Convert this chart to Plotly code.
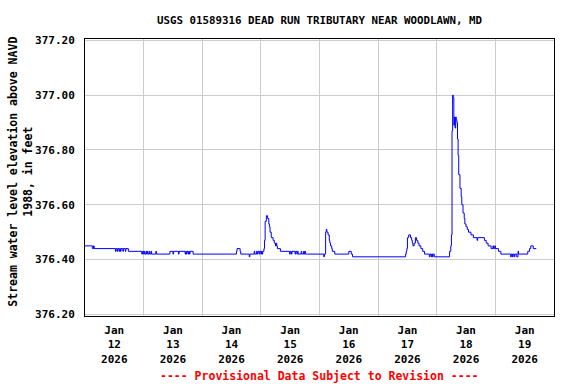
import plotly.graph_objects as go

title = "USGS 01589316 DEAD RUN TRIBUTARY NEAR WOODLAWN, MD"
y_title = "Stream water level elevation above NAVD<br>1988, in feet"
footer = "---- Provisional Data Subject to Revision ----"

# change points of the 15-minute stage record (step series)
times = [
    "2026-01-12 00:00", "2026-01-12 03:00", "2026-01-12 03:30", "2026-01-12 03:45",
    "2026-01-12 12:30", "2026-01-12 12:45", "2026-01-12 13:15", "2026-01-12 13:30",
    "2026-01-12 14:00", "2026-01-12 14:15", "2026-01-12 14:30", "2026-01-12 14:45",
    "2026-01-12 15:30", "2026-01-12 15:45", "2026-01-12 16:30", "2026-01-12 16:45",
    "2026-01-12 17:45",
    "2026-01-12 23:15", "2026-01-12 23:30", "2026-01-13 00:00", "2026-01-13 00:15",
    "2026-01-13 00:30", "2026-01-13 01:00", "2026-01-13 01:15", "2026-01-13 01:30",
    "2026-01-13 01:45", "2026-01-13 02:15", "2026-01-13 02:30", "2026-01-13 03:00",
    "2026-01-13 03:15", "2026-01-13 05:00", "2026-01-13 05:15",
    "2026-01-13 10:45", "2026-01-13 12:00", "2026-01-13 12:15", "2026-01-13 14:15",
    "2026-01-13 14:30", "2026-01-13 17:00", "2026-01-13 17:15", "2026-01-13 17:30",
    "2026-01-13 17:45", "2026-01-13 18:15", "2026-01-13 18:30", "2026-01-13 18:45",
    "2026-01-13 19:00", "2026-01-13 20:15",
    "2026-01-14 14:00", "2026-01-14 14:15", "2026-01-14 15:30", "2026-01-14 15:45",
    "2026-01-14 19:15", "2026-01-14 19:30",
    "2026-01-14 21:15", "2026-01-14 21:30", "2026-01-14 22:15", "2026-01-14 22:30",
    "2026-01-14 22:45", "2026-01-14 23:15", "2026-01-14 23:30", "2026-01-15 00:00",
    "2026-01-15 00:15", "2026-01-15 00:30", "2026-01-15 00:45",
    "2026-01-15 01:15", "2026-01-15 01:30", "2026-01-15 01:45", "2026-01-15 02:15",
    "2026-01-15 02:45", "2026-01-15 03:15", "2026-01-15 03:30", "2026-01-15 03:45",
    "2026-01-15 04:15", "2026-01-15 05:00", "2026-01-15 05:30", "2026-01-15 06:00",
    "2026-01-15 06:15", "2026-01-15 06:30", "2026-01-15 06:45", "2026-01-15 08:00",
    "2026-01-15 11:45", "2026-01-15 12:00", "2026-01-15 12:30", "2026-01-15 12:45",
    "2026-01-15 14:00", "2026-01-15 14:15", "2026-01-15 14:45", "2026-01-15 15:00",
    "2026-01-15 15:15", "2026-01-15 16:30", "2026-01-15 16:45", "2026-01-15 17:30",
    "2026-01-15 17:45", "2026-01-15 18:00", "2026-01-15 18:15", "2026-01-15 19:00",
    "2026-01-16 01:45", "2026-01-16 02:00", "2026-01-16 02:30", "2026-01-16 02:45",
    "2026-01-16 03:00", "2026-01-16 03:30", "2026-01-16 04:00", "2026-01-16 04:15",
    "2026-01-16 04:30", "2026-01-16 05:00", "2026-01-16 05:15", "2026-01-16 06:15",
    "2026-01-16 12:00", "2026-01-16 13:00", "2026-01-16 13:30",
    "2026-01-17 11:15", "2026-01-17 11:30", "2026-01-17 11:45", "2026-01-17 12:00",
    "2026-01-17 12:30", "2026-01-17 13:15", "2026-01-17 13:45", "2026-01-17 14:00",
    "2026-01-17 14:15", "2026-01-17 14:45", "2026-01-17 15:15", "2026-01-17 15:45",
    "2026-01-17 16:15", "2026-01-17 16:45", "2026-01-17 17:30", "2026-01-17 18:15",
    "2026-01-17 19:00", "2026-01-17 21:00", "2026-01-17 21:15", "2026-01-17 21:45",
    "2026-01-17 22:00", "2026-01-17 22:15", "2026-01-17 22:30", "2026-01-17 23:00",
    "2026-01-18 05:15", "2026-01-18 05:45", "2026-01-18 06:00", "2026-01-18 06:15",
    "2026-01-18 06:30", "2026-01-18 06:45", "2026-01-18 07:00", "2026-01-18 07:15",
    "2026-01-18 07:30", "2026-01-18 07:45", "2026-01-18 08:00", "2026-01-18 08:15",
    "2026-01-18 08:30", "2026-01-18 08:45", "2026-01-18 09:00", "2026-01-18 09:30",
    "2026-01-18 10:00", "2026-01-18 10:15", "2026-01-18 10:45", "2026-01-18 11:15",
    "2026-01-18 11:30", "2026-01-18 12:00", "2026-01-18 12:30", "2026-01-18 13:00",
    "2026-01-18 14:00", "2026-01-18 15:00", "2026-01-18 16:30", "2026-01-18 16:45",
    "2026-01-18 19:30", "2026-01-18 20:15", "2026-01-18 21:00", "2026-01-18 22:15",
    "2026-01-18 23:00", "2026-01-18 23:15", "2026-01-18 23:45", "2026-01-19 00:00",
    "2026-01-19 01:15", "2026-01-19 02:15",
    "2026-01-19 06:15", "2026-01-19 06:30", "2026-01-19 07:00", "2026-01-19 07:15",
    "2026-01-19 07:45", "2026-01-19 08:00", "2026-01-19 08:45", "2026-01-19 09:15",
    "2026-01-19 09:30", "2026-01-19 13:15", "2026-01-19 14:00", "2026-01-19 14:30",
    "2026-01-19 15:30", "2026-01-19 16:45",
]
levels = [
    376.45, 376.44, 376.45, 376.44,
    376.43, 376.44, 376.43, 376.44,
    376.43, 376.44, 376.43, 376.44,
    376.43, 376.44, 376.43, 376.44,
    376.43,
    376.42, 376.43, 376.42, 376.43,
    376.42, 376.43, 376.42, 376.43,
    376.42, 376.43, 376.42, 376.43,
    376.42, 376.43, 376.42,
    376.43, 376.42, 376.43, 376.42,
    376.43, 376.42, 376.43, 376.42,
    376.43, 376.42, 376.43, 376.42,
    376.43, 376.42,
    376.43, 376.44, 376.43, 376.42,
    376.41, 376.42,
    376.43, 376.42, 376.43, 376.42,
    376.43, 376.42, 376.43, 376.42,
    376.43, 376.42, 376.43,
    376.44, 376.47, 376.54, 376.56,
    376.55, 376.53, 376.52, 376.50,
    376.48, 376.47, 376.46, 376.45,
    376.46, 376.45, 376.44, 376.43,
    376.42, 376.43, 376.42, 376.43,
    376.42, 376.43, 376.42, 376.43,
    376.42, 376.43, 376.42, 376.43,
    376.42, 376.43, 376.42, 376.42,
    376.41, 376.42, 376.50, 376.51,
    376.50, 376.49, 376.47, 376.46,
    376.45, 376.44, 376.43, 376.42,
    376.43, 376.42, 376.41,
    376.42, 376.43, 376.44, 376.48,
    376.49, 376.48, 376.47, 376.46,
    376.45, 376.46, 376.48, 376.47,
    376.46, 376.45, 376.44, 376.43,
    376.42, 376.41, 376.42, 376.41,
    376.42, 376.41, 376.42, 376.41,
    376.43, 376.45, 376.49, 376.87,
    377.00, 376.99, 376.89, 376.92,
    376.88, 376.92, 376.91, 376.90,
    376.84, 376.78, 376.71, 376.66,
    376.63, 376.60, 376.57, 376.55,
    376.53, 376.52, 376.51, 376.50,
    376.49, 376.48, 376.47, 376.48,
    376.47, 376.46, 376.45, 376.44,
    376.45, 376.44, 376.45, 376.44,
    376.43, 376.42,
    376.41, 376.42, 376.41, 376.42,
    376.41, 376.42, 376.41, 376.43,
    376.42, 376.43, 376.44, 376.45,
    376.44, 376.44,
]

day_starts = ["2026-01-%02d 00:00" % d for d in range(12, 21)]
label_pos = ["2026-01-%02d 12:00" % d for d in range(12, 20)]
label_text = ["Jan<br>%d<br>2026" % d for d in range(12, 20)]
y_ticks = [376.2, 376.4, 376.6, 376.8, 377.0, 377.2]
y_labels = ["376.20", "376.40", "376.60", "376.80", "377.00", "377.20"]

FONT = "DejaVu Sans Mono"

fig = go.Figure()
fig.add_trace(go.Scatter(x=times, y=levels, mode="lines", line_shape="hv",
                         line=dict(color="#0000ff", width=1), showlegend=False,
                         hoverinfo="skip"))
fig.add_trace(go.Scatter(x=[label_pos[0]], y=[y_ticks[0]], xaxis="x2", mode="markers",
                         marker=dict(opacity=0), showlegend=False, hoverinfo="skip"))

x_range = [day_starts[0], day_starts[-1]]
fig.update_layout(
    width=576, height=384,
    margin=dict(l=85, r=22, t=39, b=68),
    paper_bgcolor="white", plot_bgcolor="white",
    title=dict(text=title, x=0.5, xref="paper", xanchor="center", y=0.947, yanchor="middle",
               font=dict(family=FONT, size=10.8, color="black", weight="bold")),
    xaxis=dict(type="date", range=x_range, tickvals=day_starts, showticklabels=False,
               showgrid=True, gridcolor="#cccccc", gridwidth=1, zeroline=False,
               showline=True, linecolor="black", linewidth=1, mirror=True, ticks="",
               automargin=False),
    xaxis2=dict(type="date", range=x_range, overlaying="x", side="bottom",
                tickvals=label_pos, ticktext=label_text, showgrid=False, zeroline=False,
                showline=False, ticks="", ticklabelstandoff=6, automargin=False,
                tickfont=dict(family=FONT, size=11, color="black", weight="bold")),
    yaxis=dict(range=[376.194, 377.205], tickvals=y_ticks, ticktext=y_labels,
               showgrid=True, gridcolor="#cccccc", gridwidth=1, zeroline=False,
               showline=True, linecolor="black", linewidth=1, mirror=True, ticks="",
               ticklabelstandoff=7, automargin=False,
               tickfont=dict(family=FONT, size=11, color="black", weight="bold")),
    annotations=[
        dict(text=y_title, xref="paper", yref="paper", x=-0.137, y=0.52,
             xanchor="center", yanchor="middle", textangle=-90, showarrow=False,
             align="center",
             font=dict(family=FONT, size=11.5, color="black", weight="bold")),
        dict(text=footer, xref="paper", yref="paper", x=0.5, y=-0.215,
             xanchor="center", yanchor="middle", showarrow=False,
             font=dict(family=FONT, size=11.5, color="red", weight="bold")),
    ],
)

fig.write_html("out.html", config={"displayModeBar": False, "staticPlot": True},
               post_script="document.body.style.margin='0';document.body.style.padding='0';")
